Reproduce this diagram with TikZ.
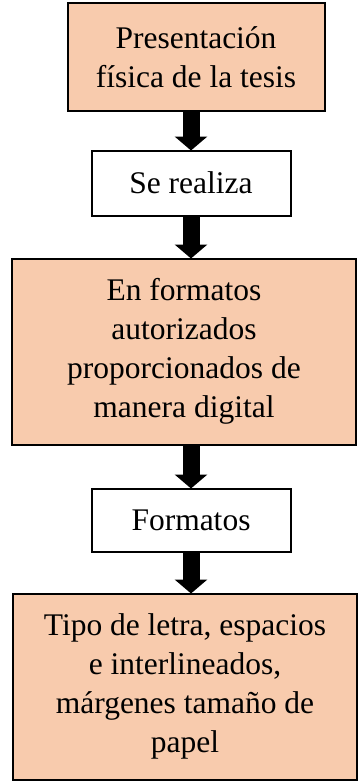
\documentclass[tikz,border=0pt]{standalone}
\usepackage{fontspec}
\setmainfont{Liberation Serif}
\usetikzlibrary{arrows.meta}
\definecolor{peach}{HTML}{F8CBAD}

\begin{document}
\begin{tikzpicture}[x = 1pt, y = -1pt,
		box/.style = {draw = black, line width = 2pt, inner sep = 0pt, outer sep = 0pt, align = center, font = \fontsize{31.5}{39}\selectfont},
		peachbox/.style = {box, fill = peach},
		blockarrow/.style = {line width = 17pt, -{Triangle[length = 14pt, width = 32pt]}}]
	\useasboundingbox (0, 0) rectangle (358, 781);
	\node[peachbox, minimum width = 257pt, minimum height = 108pt] (pres) at (196, 57.5) {Presentación\\física de la tesis};
	\node[box, minimum width = 199pt, minimum height = 65pt] (real) at (191, 183) {Se realiza};
	\node[peachbox, minimum width = 344pt, minimum height = 186pt] (form) at (184, 351.5) {En formatos\\autorizados\\proporcionados de\\manera digital};
	\node[box, minimum width = 199pt, minimum height = 63pt] (fmt) at (191, 520) {Formatos};
	\node[peachbox, minimum width = 344pt, minimum height = 186pt] (tipo) at (185, 686.5) {Tipo de letra, espacios\\e interlineados,\\márgenes tamaño de\\papel};
	\draw[blockarrow] (pres.south -| real.north) -- (real.north);
	\draw[blockarrow] (real.south) -- (form.north -| real.south);
	\draw[blockarrow] (form.south -| fmt.north) -- (fmt.north);
	\draw[blockarrow] (fmt.south) -- (tipo.north -| fmt.south);
\end{tikzpicture}
\end{document}
